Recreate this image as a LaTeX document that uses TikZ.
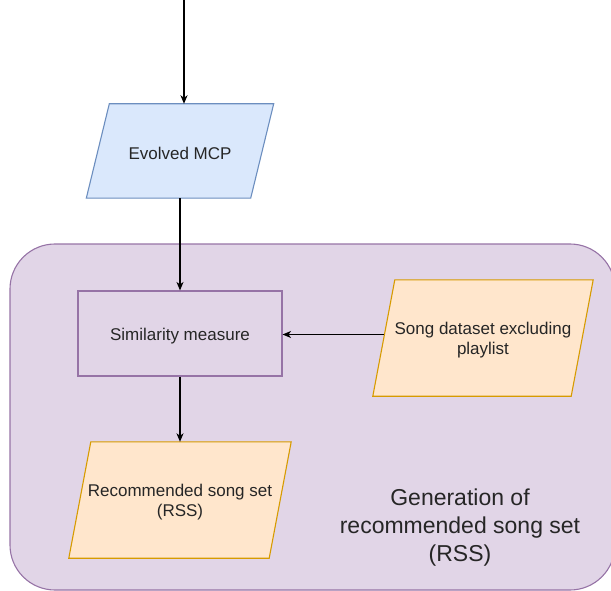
\documentclass[tikz,border=0pt]{standalone}
\usepackage{fontspec}
\setmainfont{Liberation Sans}
\usetikzlibrary{arrows.meta,calc}

\definecolor{bluefill}{HTML}{DAE8FC}
\definecolor{bluedraw}{HTML}{6C8EBF}
\definecolor{orangefill}{HTML}{FFE6CC}
\definecolor{orangedraw}{HTML}{D79B00}
\definecolor{purplefill}{HTML}{E1D5E7}
\definecolor{purpledraw}{HTML}{9673A6}
\definecolor{inktext}{HTML}{262626}

\tikzset{
  box/.style={rectangle, inner sep=0pt, align=center, text=inktext,
    font=\fontsize{17}{20}\selectfont},
  label/.style={box, yshift=-2.5pt},
  wire/.style={line width=1.2pt, draw=black,
    -{Stealth[length=8.5pt,width=7pt,inset=2.5pt]}},
  outline/.style={line width=1.1pt},
}

\begin{document}
\begin{tikzpicture}[x=1pt,y=-1pt]
\useasboundingbox (0,0) rectangle (611,591);
\clip (0,0) rectangle (611,591);

% group panel
\draw[outline, fill=purplefill, draw=purpledraw, rounded corners=45pt]
  (10,244) rectangle (615,590);

% node bodies (slanted outlines are drawn around them below)
\node[box, minimum width=164pt, minimum height=94pt] (mcp) at (180,151) {};
\node[box, minimum width=204pt, minimum height=85pt, draw=purpledraw, fill=purplefill, outline] (sim) at (180,333.5) {};
\node[box, minimum width=198pt, minimum height=116pt] (song) at (483,338) {};
\node[box, minimum width=200pt, minimum height=116pt] (rss) at (180,500) {};

% parallelogram outlines and their labels
\draw[outline, draw=bluedraw, fill=bluefill] ($(mcp.south west)+(-11.5,0)$) -- ($(mcp.north west)+(11.5,0)$) -- ($(mcp.north east)+(11.5,0)$) -- ($(mcp.south east)+(-11.5,0)$) -- cycle;
\node[label] at (mcp) {Evolved MCP};
\node[label] at (sim) {Similarity measure};

\draw[outline, draw=orangedraw, fill=orangefill] ($(song.south west)+(-11,0)$) -- ($(song.north west)+(11,0)$) -- ($(song.north east)+(11,0)$) -- ($(song.south east)+(-11,0)$) -- cycle;
\node[label] at (song) {Song dataset excluding\\playlist};

\draw[outline, draw=orangedraw, fill=orangefill] ($(rss.south west)+(-11,0)$) -- ($(rss.north west)+(11,0)$) -- ($(rss.north east)+(11,0)$) -- ($(rss.south east)+(-11,0)$) -- cycle;
\node[label] at (rss) {Recommended song set\\(RSS)};

% panel caption
\node[align=center, text=inktext, font=\fontsize{23}{28}\selectfont] (cap) at (460,528)
  {Generation of\\recommended song set\\(RSS)};

% connectors
\coordinate (in) at (184,0);
\coordinate (songin) at ($(song.west)+(0,-3.5)$);
\draw[wire] (in) -- (in |- mcp.north);
\draw[wire] (mcp.south) -- (sim.north);
\draw[wire] (songin) -- (songin -| sim.east);
\draw[wire] (sim.south) -- (rss.north);
\end{tikzpicture}
\end{document}
